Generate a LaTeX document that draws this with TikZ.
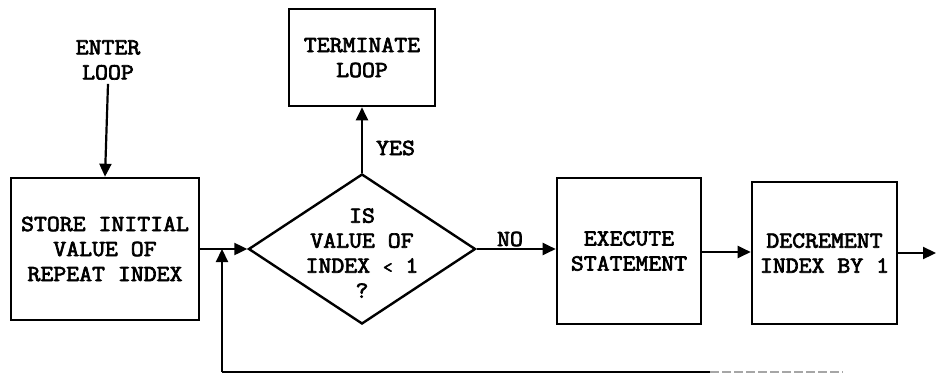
\documentclass[tikz,border=0pt]{standalone}
\usepackage{fontspec}
\newfontfamily\flowfont{Latin Modern Mono}[FakeBold=3, FakeStretch=1.09]
\usetikzlibrary{shapes.geometric,arrows.meta}
\tikzset{
  flowtext/.style={font=\flowfont\bfseries\fontsize{23}{25}\selectfont, align=center, inner sep=0pt},
  procbox/.style={draw, line width=2.6pt, rectangle, inner sep=0pt, flowtext},
  decision/.style={draw, line width=2.4pt, diamond, inner sep=0pt},
  flow/.style={line width=2.2pt, -{Triangle[length=13pt,width=12pt]}},
  plainline/.style={line width=2.2pt}
}
\begin{document}
\begin{tikzpicture}[x=1pt,y=-1pt]
  \useasboundingbox (0,0) rectangle (936,375);

  % entry label and first step
  \node[flowtext] (enter) at (108,60) {ENTER\\LOOP};
  \node[procbox, minimum width=188pt, minimum height=142pt] (store) at (105,249)
       {STORE INITIAL\\VALUE OF\\REPEAT INDEX};

  % loop test
  \node[decision, minimum width=227pt, minimum height=150pt] (test) at (362,249) {};
  \node[flowtext] (testtext) at (362,253) {IS\\VALUE OF\\INDEX {\fontsize{17}{25}\selectfont<} 1\\?};

  % exit
  \node[procbox, minimum width=146pt, minimum height=97pt] (term) at (362,57.5)
       {TERMINATE\\LOOP};

  % loop body
  \node[procbox, minimum width=144pt, minimum height=146pt] (exec) at (629,251)
       {EXECUTE\\STATEMENT};
  \node[procbox, minimum width=145pt, minimum height=142pt] (decr) at (824.5,253)
       {DECREMENT\\INDEX  BY 1};

  % branch labels
  \node[flowtext, anchor=west] (yes) at (376,148) {YES};
  \node[flowtext] (no) at (510,239) {NO};

  % junction of the return path
  \coordinate (jn) at (222,249);
  \coordinate (bl) at (222,372);
  \coordinate (br) at (710,372);
  \coordinate (fade) at (843,372);
  \coordinate (out) at (936,253);

  % connectors
  \draw[flow] ([yshift=-4pt]enter.south) -- (store.north);
  \draw[flow] (store.east) -- (test.west);
  \draw[flow] (test.north) -- (term.south);
  \draw[flow] (test.east) -- (exec.west |- test.east);
  \draw[flow] (exec.east |- 0,252) -- (decr.west |- 0,252);
  \draw[flow] (decr.east) -- (out);
  \draw[flow] (bl) -- (jn);
  \draw[plainline] (bl) -- (br);
  \draw[plainline, black!35, dash pattern=on 9pt off 3pt] (br) -- (fade);
\end{tikzpicture}
\end{document}
